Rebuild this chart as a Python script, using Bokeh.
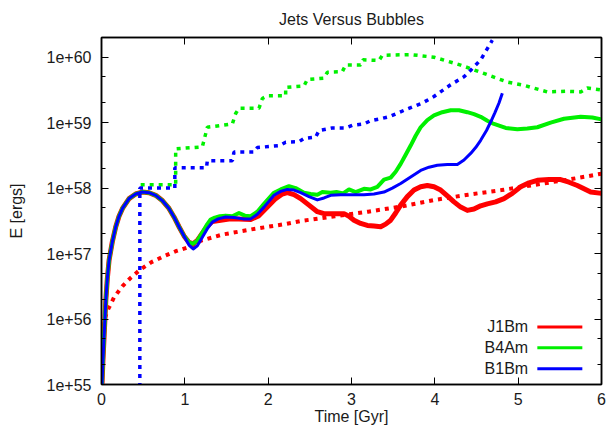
import numpy as np
from bokeh.plotting import figure
from bokeh.models import (Range1d, FixedTicker, LinearAxis, LogAxis,
                          CustomJSTickFormatter, Label, Title)
from bokeh.embed import file_html
from bokeh.resources import INLINE

# ---- data: time [Gyr] and log10(E / erg) ----
# all three runs share the same early evolution
early_t = [0.0, 0.015, 0.031, 0.052, 0.07, 0.091, 0.13, 0.171, 0.21, 0.252,
           0.331, 0.41, 0.49, 0.57, 0.65, 0.73, 0.81, 0.87, 0.93, 0.99]
early_logE = [54.8, 55.3, 55.73, 56.29, 56.62, 56.90, 57.18, 57.41, 57.57, 57.69,
              57.84, 57.91, 57.94, 57.93, 57.89, 57.81, 57.69, 57.56, 57.41, 57.27]

j1bm_t = early_t + [1.05, 1.10, 1.15, 1.21, 1.27, 1.33, 1.43, 1.55, 1.65, 1.79,
                    1.89, 1.99, 2.09, 2.17, 2.23, 2.31, 2.39, 2.49, 2.59, 2.67,
                    2.75, 2.83, 2.91, 2.97, 3.03, 3.11, 3.19, 3.27, 3.35, 3.41,
                    3.47, 3.53, 3.59, 3.67, 3.75, 3.83, 3.91, 3.99, 4.07, 4.15,
                    4.23, 4.31, 4.39, 4.47, 4.55, 4.63, 4.73, 4.83, 4.93, 5.03,
                    5.13, 5.23, 5.37, 5.51, 5.61, 5.71, 5.79, 5.87, 6.0]
j1bm_logE = early_logE + [57.17, 57.15, 57.20, 57.31, 57.42, 57.49, 57.51, 57.53, 57.53, 57.52,
                          57.58, 57.71, 57.84, 57.91, 57.93, 57.90, 57.84, 57.74, 57.64, 57.61,
                          57.61, 57.61, 57.61, 57.57, 57.51, 57.46, 57.43, 57.42, 57.41, 57.45,
                          57.51, 57.62, 57.74, 57.87, 57.97, 58.02, 58.04, 58.02, 57.97, 57.88,
                          57.79, 57.71, 57.66, 57.68, 57.73, 57.76, 57.79, 57.84, 57.92, 58.02,
                          58.08, 58.12, 58.13, 58.13, 58.09, 58.04, 57.99, 57.94, 57.92]

b4am_t = early_t + [1.05, 1.10, 1.15, 1.21, 1.27, 1.31, 1.36, 1.42, 1.49, 1.57,
                    1.65, 1.72, 1.79, 1.87, 1.95, 2.07, 2.15, 2.25, 2.33, 2.43,
                    2.51, 2.59, 2.65, 2.75, 2.82, 2.90, 2.97, 3.05, 3.15, 3.23,
                    3.31, 3.39, 3.47, 3.53, 3.59, 3.65, 3.71, 3.77, 3.83, 3.91,
                    3.99, 4.09, 4.19, 4.29, 4.39, 4.47, 4.55, 4.63, 4.71, 4.85,
                    4.99, 5.11, 5.23, 5.39, 5.55, 5.75, 5.89, 6.0]
b4am_logE = early_logE + [57.17, 57.15, 57.20, 57.32, 57.45, 57.52, 57.55, 57.57, 57.58, 57.57,
                          57.62, 57.58, 57.57, 57.64, 57.76, 57.93, 57.98, 58.03, 58.00, 57.93,
                          57.91, 57.90, 57.94, 57.93, 57.94, 57.92, 57.98, 57.94, 57.99, 57.98,
                          58.02, 58.13, 58.16, 58.25, 58.37, 58.51, 58.65, 58.80, 58.93, 59.04,
                          59.11, 59.16, 59.19, 59.19, 59.16, 59.13, 59.09, 59.03, 58.98, 58.92,
                          58.90, 58.91, 58.93, 59.00, 59.06, 59.09, 59.08, 59.05]

b1bm_t = early_t + [1.05, 1.10, 1.15, 1.21, 1.27, 1.33, 1.40, 1.49, 1.59, 1.70,
                    1.79, 1.87, 1.95, 2.07, 2.15, 2.23, 2.31, 2.39, 2.49, 2.59,
                    2.67, 2.75, 2.87, 2.99, 3.15, 3.27, 3.39, 3.49, 3.59, 3.71,
                    3.83, 3.93, 4.03, 4.15, 4.27, 4.35, 4.43, 4.49, 4.55, 4.62,
                    4.67, 4.72, 4.77, 4.81]
b1bm_logE = early_logE + [57.13, 57.07, 57.12, 57.25, 57.38, 57.48, 57.53, 57.56, 57.55, 57.53,
                          57.53, 57.60, 57.71, 57.89, 57.95, 57.98, 57.97, 57.93, 57.87, 57.82,
                          57.85, 57.89, 57.90, 57.90, 57.90, 57.91, 57.94, 58.00, 58.07, 58.17,
                          58.27, 58.32, 58.35, 58.36, 58.36, 58.43, 58.53, 58.62, 58.73, 58.88,
                          59.01, 59.15, 59.30, 59.45]

# dotted companions of each run
j1bm_dot_t = [0.0, 0.03, 0.08, 0.15, 0.25, 0.35, 0.47, 0.6, 0.75, 0.9,
              1.05, 1.2, 1.45, 1.8, 2.2, 2.4, 2.8, 3.2, 3.6, 4.0,
              4.4, 4.8, 5.2, 5.6, 6.0]
j1bm_dot_logE = [55.75, 55.98, 56.15, 56.33, 56.50, 56.63, 56.76, 56.87, 56.96, 57.04,
                 57.10, 57.20, 57.29, 57.37, 57.45, 57.50, 57.57, 57.64, 57.72, 57.82,
                 57.90, 57.97, 58.05, 58.13, 58.22]

b4am_dot_t = [0.47, 0.89, 0.89, 1.21, 1.27, 1.57, 1.61, 1.65, 1.89, 1.93,
              1.99, 2.21, 2.21, 2.43, 2.47, 2.67, 2.71, 2.89, 2.93, 3.11,
              3.14, 3.33, 3.37, 3.71, 3.99, 4.31, 4.55, 4.87, 5.07, 5.35,
              5.59, 5.75, 5.83, 6.0]
b4am_dot_logE = [58.05, 58.05, 58.60, 58.63, 58.93, 58.98, 59.14, 59.22, 59.22, 59.37,
                 59.41, 59.41, 59.54, 59.56, 59.66, 59.68, 59.77, 59.78, 59.88, 59.88,
                 59.96, 59.95, 60.03, 60.04, 60.00, 59.88, 59.77, 59.62, 59.57, 59.47,
                 59.48, 59.47, 59.53, 59.50]

b1bm_dot_t = [0.46, 0.46, 0.88, 0.88, 1.26, 1.27, 1.57, 1.59, 1.83, 1.87,
              2.14, 2.21, 2.37, 2.43, 2.57, 2.61, 2.77, 2.93, 3.01, 3.15,
              3.23, 3.35, 3.45, 3.67, 3.85, 3.99, 4.19, 4.35, 4.43, 4.55,
              4.69]
b1bm_dot_logE = [54.0, 58.0, 58.0, 58.31, 58.31, 58.42, 58.42, 58.55, 58.55, 58.62,
                 58.65, 58.70, 58.71, 58.76, 58.78, 58.88, 58.92, 58.92, 58.96, 58.98,
                 59.03, 59.06, 59.09, 59.21, 59.30, 59.40, 59.58, 59.70, 59.80, 59.96,
                 60.26]

title_text = "Jets Versus Bubbles"
labels = ["J1Bm", "B4Am", "B1Bm"]
colors = ["#ff0000", "#00f000", "#0000ff"]

y_major = [1e55, 1e56, 1e57, 1e58, 1e59, 1e60]
y_minor = [m * d for d in [1e55, 1e56, 1e57, 1e58, 1e59] for m in (2, 5)]
x_major = [0, 1, 2, 3, 4, 5, 6]

FONT = "Liberation Sans"
FS = "16px"
INK = "#1a1a1a"

p = figure(width=610, height=434, output_backend="svg", toolbar_location=None,
           x_range=Range1d(0, 6), y_range=Range1d(1e55, 2e60), y_axis_type="log",
           min_border_left=101, min_border_right=9, min_border_top=37,
           min_border_bottom=50)
p.background_fill_color = "white"
p.border_fill_color = "white"
p.outline_line_color = "black"
p.outline_line_width = 1.5
p.xgrid.visible = False
p.ygrid.visible = False

p.title = Title(text=title_text, align="center", vertical_align="top",
                text_font=FONT, text_font_size=FS, text_font_style="normal",
                text_color=INK, text_line_height=0.5, standoff=16)

sci = CustomJSTickFormatter(code="return tick.toExponential(0);")
blank = CustomJSTickFormatter(code="return '';")


def style_axis(ax):
    ax.axis_line_color = "black"
    ax.axis_line_width = 1.5
    ax.major_tick_in = 7
    ax.major_tick_out = 0
    ax.minor_tick_in = 4
    ax.minor_tick_out = 0
    ax.major_tick_line_color = "black"
    ax.minor_tick_line_color = "black"
    ax.major_label_text_font = FONT
    ax.major_label_text_font_size = FS
    ax.major_label_text_color = INK
    ax.axis_label_text_font = FONT
    ax.axis_label_text_font_size = FS
    ax.axis_label_text_font_style = "normal"
    ax.axis_label_text_color = INK


xa = p.xaxis[0]
xa.ticker = FixedTicker(ticks=x_major, minor_ticks=[])
xa.axis_label = "Time [Gyr]"
style_axis(xa)
xa.major_label_standoff = 8
xa.axis_label_standoff = 0

ya = p.yaxis[0]
ya.ticker = FixedTicker(ticks=y_major, minor_ticks=y_minor)
ya.formatter = sci
ya.axis_label = "E [ergs]"
style_axis(ya)
ya.major_label_standoff = 10
ya.axis_label_standoff = 19

top = LinearAxis(ticker=FixedTicker(ticks=x_major, minor_ticks=[]), formatter=blank)
style_axis(top)
top.major_label_standoff = 0
p.add_layout(top, "above")

right = LogAxis(ticker=FixedTicker(ticks=y_major, minor_ticks=y_minor), formatter=blank)
style_axis(right)
right.major_label_standoff = 0
p.add_layout(right, "right")


def energy(logs):
    return [10.0 ** v for v in logs]


dot = "4 5"
# solid curves: red drawn widest underneath, blue on top
p.line(j1bm_t, energy(j1bm_logE), color=colors[0], line_width=5, line_join="round")
p.line(j1bm_dot_t, energy(j1bm_dot_logE), color=colors[0], line_width=4, line_dash=dot)
p.line(b4am_t, energy(b4am_logE), color=colors[1], line_width=4, line_join="round")
p.line(b4am_dot_t, energy(b4am_dot_logE), color=colors[1], line_width=3.5, line_dash=dot)
p.line(b1bm_t, energy(b1bm_logE), color=colors[2], line_width=3, line_join="round")
p.line(b1bm_dot_t, energy(b1bm_dot_logE), color=colors[2], line_width=3.5, line_dash=dot)

# key in the lower right: label, then a short line sample
key_text_x = 5.12
key_line_x = (5.23, 5.77)
key_rows = [55.88, 55.56, 55.24]
for lab, col, row in zip(labels, colors, key_rows):
    p.add_layout(Label(x=key_text_x, y=10.0 ** row, text=lab, text_align="right",
                       text_baseline="middle", text_font=FONT, text_font_size=FS,
                       text_color=INK))
    p.line(list(key_line_x), [10.0 ** row, 10.0 ** row], color=col, line_width=3)

open("out.html", "w").write(file_html(p, INLINE))
